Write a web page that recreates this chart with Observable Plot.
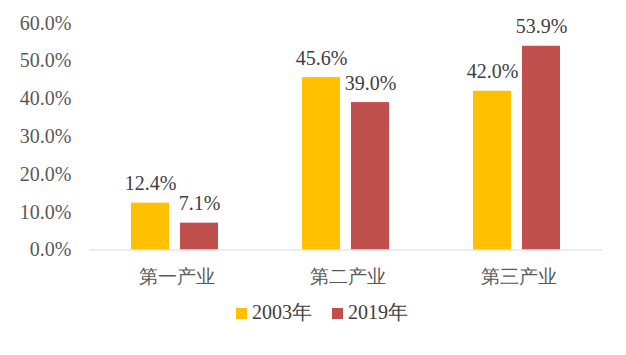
<!DOCTYPE html>
<html><head><meta charset="utf-8">
<script src="https://cdn.jsdelivr.net/npm/d3@7"></script>
<script src="https://cdn.jsdelivr.net/npm/@observablehq/plot@0.6"></script>
<style>
body{margin:0;background:#fff;font-family:'Liberation Serif','Times New Roman',serif;}
#legend{display:flex;gap:20px;justify-content:center;padding-left:18px;margin-top:1px;font-size:20px;color:#404040;line-height:22px;}
#legend span.sw{display:inline-block;width:11px;height:11px;margin-right:5px;vertical-align:0px;}
</style></head><body>
<div id="chart"></div>
<div id="legend"></div>
<script>
const categories = ["第一产业","第二产业","第三产业"];
const years = ["2003年","2019年"];
const v2003 = [12.4, 45.6, 42.0];
const v2019 = [7.1, 39.0, 53.9];
const colors = ["#FFC000","#C0504D"];

const data = [];
categories.forEach((c,i)=>{
  data.push({cat:c, year:years[0], v:v2003[i]});
  data.push({cat:c, year:years[1], v:v2019[i]});
});

const FONT = "'Liberation Serif', 'Times New Roman', serif";

const chart = Plot.plot({
  width: 626, height: 300,
  marginLeft: 88, marginRight: 23, marginTop: 22.7, marginBottom: 50.5,
  style:{fontFamily:FONT, fontSize:"20px", color:"#595959", background:"#fff"},
  fx:{domain:categories, padding:0, label:null, axis:null},
  x:{domain:years, axis:null, paddingInner:0.222, paddingOuter:0.845},
  y:{domain:[0,60], ticks:[0,10,20,30,40,50,60], tickFormat:d=>d.toFixed(1)+"%", tickSize:0, tickPadding:18, label:null},
  color:{domain:years, range:colors},
  marks:[
    Plot.axisFx({anchor:"bottom", tickSize:0, tickPadding:19, fontSize:19, label:null, fill:"#595959", dx:2, style:{letterSpacing:"4.5px"}}),
    Plot.barY(data,{fx:"cat", x:"year", y:"v", fill:"year"}),
    Plot.ruleY([0],{stroke:"#d9d9d9", strokeWidth:1.2}),
    Plot.text(data,{fx:"cat", x:"year", y:"v", text:d=>d.v.toFixed(1)+"%", lineAnchor:"bottom", dy:-13, fill:"#404040", fontSize:20})
  ]
});
document.getElementById("chart").appendChild(chart);

const lg = document.getElementById("legend");
years.forEach((y,i)=>{
  const d = document.createElement("div");
  d.innerHTML = `<span class="sw" style="background:${colors[i]}"></span>${y}`;
  lg.appendChild(d);
});
</script>
</body></html>
